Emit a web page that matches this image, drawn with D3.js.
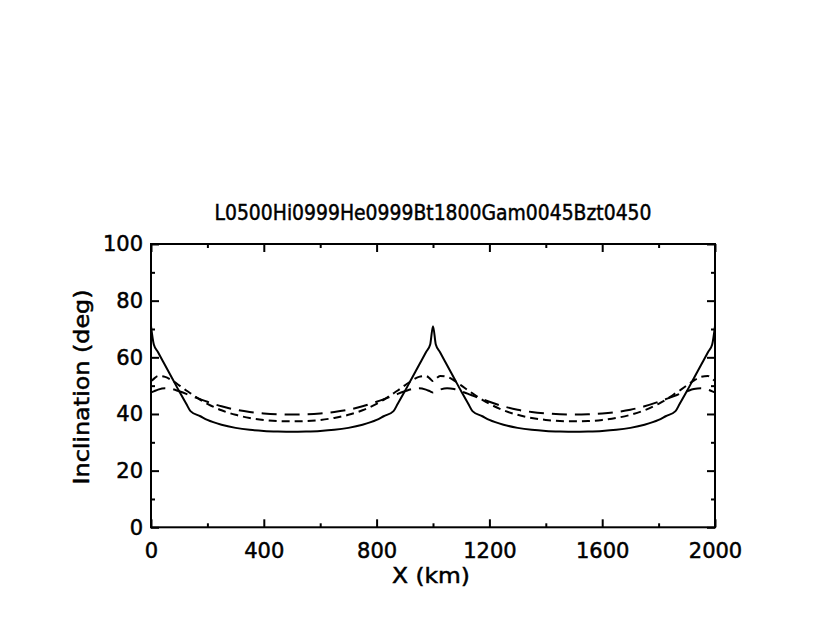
<!DOCTYPE html>
<html>
<head>
<meta charset="utf-8">
<script src="https://cdn.jsdelivr.net/npm/d3@7"></script>
<style>
  body { margin: 0; background: #fff; }
  text { font-family: "DejaVu Sans", sans-serif; fill: #000; stroke: #000; stroke-width: 0.5px; }
</style>
</head>
<body>
<svg id="chart" width="830" height="642"></svg>
<script>
// values
const xKm = [0,10,25,50,75,100,125,140,175,200,250,300,350,400,450,500,
  550,600,650,700,750,800,825,860,875,900,925,950,975,990,1000,
  1010,1025,1050,1075,1100,1125,1140,1175,1200,1250,1300,1350,1400,1450,1500,
  1550,1600,1650,1700,1750,1800,1825,1860,1875,1900,1925,1950,1975,1990,2000];

const solidDeg = [71,64.5,61.8,57.2,52.6,48.0,43.6,41.0,39.2,37.9,36.2,35.1,34.4,34.0,33.8,33.7,
  33.8,34.0,34.4,35.1,36.2,37.9,39.2,41.0,43.6,48.0,52.6,57.2,61.8,64.5,71,
  64.5,61.8,57.2,52.6,48.0,43.6,41.0,39.2,37.9,36.2,35.1,34.4,34.0,33.8,33.7,
  33.8,34.0,34.4,35.1,36.2,37.9,39.2,41.0,43.6,48.0,52.6,57.2,61.8,64.5,71];

const shortDashDeg = [51.6,52.4,53.4,53.1,51.8,50.1,48.3,47.3,45.0,43.6,41.3,39.7,38.6,37.9,37.5,37.4,
  37.5,37.9,38.6,39.7,41.3,43.6,45.0,47.3,48.3,50.1,51.8,53.1,53.4,52.4,51.6,
  52.4,53.4,53.1,51.8,50.1,48.3,47.3,45.0,43.6,41.3,39.7,38.6,37.9,37.5,37.4,
  37.5,37.9,38.6,39.7,41.3,43.6,45.0,47.3,48.3,50.1,51.8,53.1,53.4,52.4,51.6];

const longDashDeg = [47.6,48.0,48.6,49.1,48.8,48.0,47.1,46.5,45.2,44.3,42.7,41.5,40.7,40.2,39.9,39.8,
  39.9,40.2,40.7,41.5,42.7,44.3,45.2,46.5,47.1,48.0,48.8,49.1,48.6,48.0,47.6,
  48.0,48.6,49.1,48.8,48.0,47.1,46.5,45.2,44.3,42.7,41.5,40.7,40.2,39.9,39.8,
  39.9,40.2,40.7,41.5,42.7,44.3,45.2,46.5,47.1,48.0,48.8,49.1,48.6,48.0,47.6];

const xMajor = [0,400,800,1200,1600,2000];
const xMinor = [200,600,1000,1400,1800];
const yMajor = [0,20,40,60,80,100];
const yMinor = [10,30,50,70,90];

const title = "L0500Hi0999He0999Bt1800Gam0045Bzt0450";

const margin = {left: 151, right: 115, top: 244, bottom: 115};
const width = 830, height = 642;

const svg = d3.select("#chart");
svg.append("rect").attr("width", width).attr("height", height).attr("fill", "#fff");

const x = d3.scaleLinear().domain([0, 2000]).range([margin.left, width - margin.right]);
const y = d3.scaleLinear().domain([0, 100]).range([height - margin.bottom + 0.3, margin.top]);

svg.append("defs").append("clipPath").attr("id", "plotclip")
  .append("rect")
  .attr("x", x(0)).attr("y", y(100))
  .attr("width", x(2000) - x(0)).attr("height", y(0) - y(100));

const line = (vals) => d3.line()
  .x((d, i) => x(xKm[i]))
  .y(d => y(d))
  .curve(d3.curveMonotoneX)(vals);

const curves = svg.append("g").attr("clip-path", "url(#plotclip)")
  .attr("fill", "none").attr("stroke", "#000").attr("stroke-width", 2);

curves.append("path").attr("d", line(solidDeg));
curves.append("path").attr("d", line(shortDashDeg)).attr("stroke-dasharray", "8,5");
curves.append("path").attr("d", line(longDashDeg)).attr("stroke-dasharray", "15,8");

// axes, ticks pointing in
function styleAxis(g) {
  g.select(".domain").remove();
  g.selectAll(".tick line").attr("stroke", "#000").attr("stroke-width", 2);
  g.selectAll(".tick text").attr("font-size", 21).attr("fill", "#000");
}

svg.append("g").attr("transform", `translate(0,${y(0)})`)
  .call(d3.axisBottom(x).tickValues(xMajor).tickSize(-8).tickFormat(d3.format("d")))
  .call(styleAxis)
  .selectAll(".tick text").attr("y", 31).attr("dy", 0);
svg.append("g").attr("transform", `translate(0,${y(0)})`)
  .call(d3.axisBottom(x).tickValues(xMinor).tickSize(-4).tickFormat(""))
  .call(styleAxis);
svg.append("g").attr("transform", `translate(0,${y(100)})`)
  .call(d3.axisTop(x).tickValues(xMajor).tickSize(-8).tickFormat(""))
  .call(styleAxis);
svg.append("g").attr("transform", `translate(0,${y(100)})`)
  .call(d3.axisTop(x).tickValues(xMinor).tickSize(-4).tickFormat(""))
  .call(styleAxis);

svg.append("g").attr("transform", `translate(${x(0)},0)`)
  .call(d3.axisLeft(y).tickValues(yMajor).tickSize(-8).tickPadding(8))
  .call(styleAxis);
svg.append("g").attr("transform", `translate(${x(0)},0)`)
  .call(d3.axisLeft(y).tickValues(yMinor).tickSize(-4).tickFormat(""))
  .call(styleAxis);
svg.append("g").attr("transform", `translate(${x(2000)},0)`)
  .call(d3.axisRight(y).tickValues(yMajor).tickSize(-8).tickFormat(""))
  .call(styleAxis);
svg.append("g").attr("transform", `translate(${x(2000)},0)`)
  .call(d3.axisRight(y).tickValues(yMinor).tickSize(-4).tickFormat(""))
  .call(styleAxis);

svg.append("rect")
  .attr("x", x(0)).attr("y", y(100))
  .attr("width", x(2000) - x(0)).attr("height", y(0) - y(100))
  .attr("fill", "none").attr("stroke", "#000").attr("stroke-width", 2);

svg.append("text")
  .attr("x", (x(0) + x(2000)) / 2).attr("y", 220)
  .attr("text-anchor", "middle").attr("font-size", 21)
  .attr("textLength", 437).attr("lengthAdjust", "spacingAndGlyphs")
  .text(title);

svg.append("text")
  .attr("x", 431).attr("y", 583)
  .attr("text-anchor", "middle").attr("font-size", 21)
  .attr("textLength", 78).attr("lengthAdjust", "spacingAndGlyphs")
  .text("X (km)");

svg.append("text")
  .attr("transform", `translate(89,387) rotate(-90)`)
  .attr("text-anchor", "middle").attr("font-size", 21)
  .attr("textLength", 195).attr("lengthAdjust", "spacingAndGlyphs")
  .text("Inclination (deg)");
</script>
</body>
</html>
